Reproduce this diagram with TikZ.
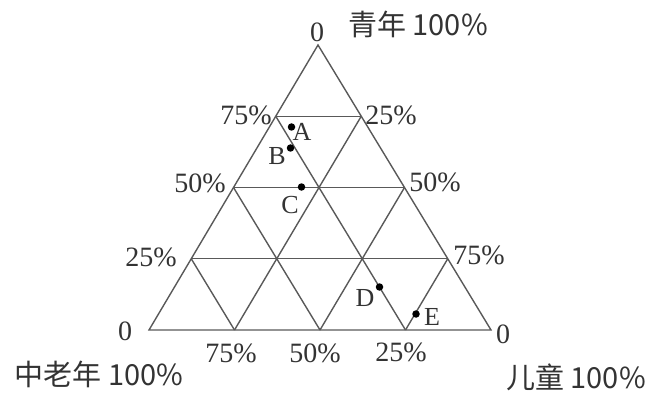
\documentclass[tikz,border=0pt]{standalone}
\usepackage{fontspec}
\setmainfont{Liberation Serif}
\newfontfamily\cjk{Noto Sans CJK SC}
\usetikzlibrary{positioning}

\begin{document}
\begin{tikzpicture}[x=1pt,y=-1pt,
    grid/.style={draw=black!65,line width=1.4pt},
    pct/.style={inner sep=0pt,text=black!80,font=\fontsize{28}{30}\selectfont},
    axis/.style={inner sep=0pt,text=black!80,font=\cjk\fontsize{29}{32}\selectfont},
    pt/.style={circle,fill=black,inner sep=0pt,minimum size=7.5pt},
    ptlabel/.style={inner sep=0pt,text=black!80,font=\fontsize{26}{28}\selectfont}]
    \useasboundingbox (0,0) rectangle (648,393);

    % corners and grid points
    \coordinate (T) at (318,45);
    \coordinate (L) at (149,330);
    \coordinate (R) at (491,330);
    \coordinate (l1) at (191.25,258.75);
    \coordinate (l2) at (233.5,187.5);
    \coordinate (l3) at (275.75,116.25);
    \coordinate (r1) at (447.75,258.75);
    \coordinate (r2) at (404.5,187.5);
    \coordinate (r3) at (361.25,116.25);
    \coordinate (b1) at (234.5,330);
    \coordinate (b2) at (320,330);
    \coordinate (b3) at (405.5,330);

    \draw[grid] (L) -- (R) -- (T) -- cycle;
    \draw[grid] (l1) -- (r1)  (l2) -- (r2)  (l3) -- (r3);
    \draw[grid] (b1) -- (r3)  (b2) -- (r2)  (b3) -- (r1);
    \draw[grid] (b3) -- (l3)  (b2) -- (l2)  (b1) -- (l1);

    % scale labels
    \node[pct] (t0)  at (317,32)  {0};
    \node[pct] (l75) at (246,115) {75\%};
    \node[pct] (l50) at (200,183) {50\%};
    \node[pct] (l25) at (151,257) {25\%};
    \node[pct] (l0)  at (125,331) {0};
    \node[pct] (r25) at (391,115) {25\%};
    \node[pct] (r50) at (435,182) {50\%};
    \node[pct] (r75) at (479,255) {75\%};
    \node[pct] (r0)  at (503,334) {0};
    \node[pct] (b75) at (231,353) {75\%};
    \node[pct] (b50) at (315,353) {50\%};
    \node[pct] (b25) at (401,352) {25\%};

    \node[axis] (young) at (418,24)  {青年 100\%};
    \node[axis] (old)   at (99,374)  {中老年 100\%};
    \node[axis] (child) at (576,377) {儿童 100\%};

    % data points
    \node[pt] (A) at (291.5,127) {};
    \node[pt] (B) at (290.5,148) {};
    \node[pt] (C) at (301.5,187) {};
    \node[pt] (D) at (379.5,287) {};
    \node[pt] (E) at (416,314) {};
    \node[ptlabel] (Alab) at (302,132) {A};
    \node[ptlabel] (Blab) at (277,156) {B};
    \node[ptlabel] (Clab) at (290,205) {C};
    \node[ptlabel] (Dlab) at (365,298) {D};
    \node[ptlabel] (Elab) at (432,317) {E};
\end{tikzpicture}
\end{document}
